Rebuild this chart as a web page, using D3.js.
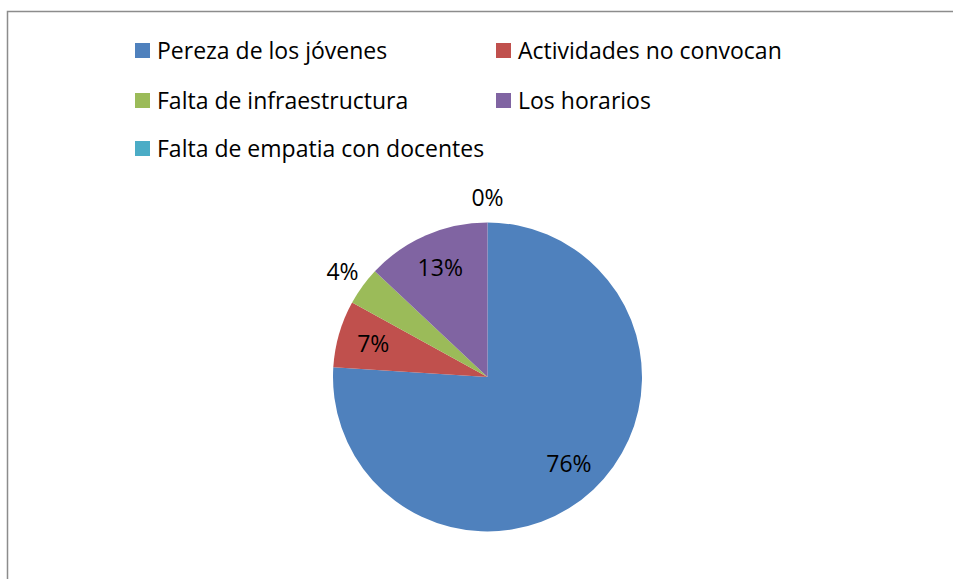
<!DOCTYPE html>
<html>
<head>
<meta charset="utf-8">
<script src="https://cdn.jsdelivr.net/npm/d3@7"></script>
<style>
  body { margin: 0; background: #fff; }
  svg { display: block; font-family: "Open Sans", Lato, sans-serif; }
</style>
</head>
<body>
<div id="chart"></div>
<script>
// data
var categories = ["Pereza de los jóvenes", "Actividades no convocan", "Falta de infraestructura", "Los horarios", "Falta de empatia con docentes"];
var values = [76, 7, 4, 13, 0];
var colors = ["#4F81BD", "#C0504D", "#9BBB59", "#8064A2", "#4BACC6"];
// which labels sit outside the pie (Excel best-fit)
var outside = [false, false, true, false, true];

var W = 953, H = 579;
var cx = 487.5, cy = 377, radius = 154.5;
var fontSize = 23;

var svg = d3.select("#chart").append("svg")
  .attr("width", W)
  .attr("height", H);

svg.append("rect")
  .attr("width", W).attr("height", H)
  .attr("fill", "#fff");

// chart frame (runs off the right and bottom of the picture)
svg.append("rect")
  .attr("x", 7.5).attr("y", 11.5)
  .attr("width", W + 20).attr("height", H + 20)
  .attr("fill", "none")
  .attr("stroke", "#8c8c8c")
  .attr("stroke-width", 1.5);

var total = d3.sum(values);
var data = categories.map(function (c, i) {
  return { name: c, value: values[i], color: colors[i], out: outside[i] };
});

var pie = d3.pie()
  .sort(null)
  .value(function (d) { return d.value; })
  .startAngle(0)
  .endAngle(2 * Math.PI);

var arc = d3.arc().innerRadius(0).outerRadius(radius);
var inArc = d3.arc().innerRadius(radius * 0.77).outerRadius(radius * 0.77);
var outArc = d3.arc().innerRadius(radius * 1.16).outerRadius(radius * 1.16);

var pieG = svg.append("g")
  .attr("transform", "translate(" + cx + "," + cy + ")");

var arcs = pie(data);

pieG.selectAll("path.slice")
  .data(arcs)
  .enter().append("path")
  .attr("class", "slice")
  .attr("d", arc)
  .attr("fill", function (d) { return d.data.color; });

pieG.selectAll("text.lbl")
  .data(arcs)
  .enter().append("text")
  .attr("class", "lbl")
  .attr("transform", function (d) {
    var c = d.data.out ? outArc.centroid(d) : inArc.centroid(d);
    return "translate(" + c[0] + "," + c[1] + ")";
  })
  .attr("text-anchor", "middle")
  .attr("dy", "0.35em")
  .attr("font-size", fontSize)
  .attr("fill", "#000")
  .text(function (d) { return Math.round(d.data.value / total * 100) + "%"; });

// legend, two columns
var legX = [135, 496], legY = [43, 93, 141], box = 15;
var leg = svg.append("g").attr("class", "legend");
var items = leg.selectAll("g.item")
  .data(data)
  .enter().append("g")
  .attr("class", "item")
  .attr("transform", function (d, i) {
    return "translate(" + legX[i % 2] + "," + legY[Math.floor(i / 2)] + ")";
  });

items.append("rect")
  .attr("width", box).attr("height", box)
  .attr("fill", function (d) { return d.color; });

items.append("text")
  .attr("x", 22)
  .attr("y", 16)
  .attr("font-size", fontSize)
  .attr("fill", "#000")
  .text(function (d) { return d.name; });
</script>
</body>
</html>
